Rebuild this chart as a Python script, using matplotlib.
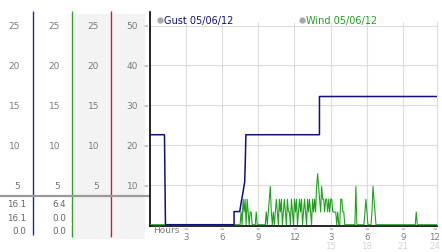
import numpy as np
import matplotlib
matplotlib.use("Agg")
import matplotlib.pyplot as plt

# Gust trace (hour of day, value on main axis)
gust_hours = [0.0, 1.24, 1.32, 7.0, 7.0, 7.47, 7.6, 7.75, 7.88, 7.94, 7.98, 14.07, 14.07, 23.8]
gust_vals = [22.6, 22.6, 0.0, 0.0, 3.3, 3.3, 5.8, 8.3, 10.8, 17.0, 22.6, 22.6, 32.2, 32.2]

# Wind readings, every 5 minutes, one row per hour
wind_rows = [
    [0, 0, 0, 0, 0, 0, 0, 0, 0, 0, 0, 0],  # 00
    [0, 0, 0, 0, 0, 0, 0, 0, 0, 0, 0, 0],  # 01
    [0, 0, 0, 0, 0, 0, 0, 0, 0, 0, 0, 0],  # 02
    [0, 0, 0, 0, 0, 0, 0, 0, 0, 0, 0, 0],  # 03
    [0, 0, 0, 0, 0, 0, 0, 0, 0, 0, 0, 0],  # 04
    [0, 0, 0, 0, 0, 0, 0, 0, 0, 0, 0, 0],  # 05
    [0, 0, 0, 0, 0, 0, 0, 0, 0, 0, 0, 0],  # 06
    [0, 0, 0, 0, 0, 0, 0, 3.2, 0, 6.4, 3.2, 6.4],  # 07
    [0, 6.4, 3.2, 0, 3.2, 3.2, 0, 0, 0, 0, 3.2, 0],  # 08
    [0, 0, 0, 0, 0, 0, 0, 0, 3.2, 0, 3.2, 6.4],  # 09
    [9.6, 3.2, 0, 3.2, 0, 3.2, 6.4, 3.2, 0, 6.4, 3.2, 6.4],  # 10
    [0, 3.2, 6.4, 3.2, 0, 6.4, 3.2, 3.2, 0, 6.4, 3.2, 0],  # 11
    [6.4, 3.2, 6.4, 0, 3.2, 6.4, 3.2, 6.4, 0, 3.2, 6.4, 3.2],  # 12
    [0, 6.4, 3.2, 6.4, 3.2, 0, 6.4, 3.2, 6.4, 3.2, 9.6, 12.8],  # 13
    [9.6, 6.4, 3.2, 9.6, 6.4, 6.4, 3.2, 6.4, 6.4, 3.2, 6.4, 3.2],  # 14
    [6.4, 6.4, 3.2, 3.2, 3.2, 3.2, 0, 3.2, 0, 0, 6.4, 6.4],  # 15
    [3.2, 3.2, 0, 0, 0, 0, 0, 0, 0, 0, 0, 0],  # 16
    [0, 9.6, 0, 0, 0, 0, 0, 0, 0, 0, 3.2, 6.4],  # 17
    [3.2, 0, 0, 0, 0, 3.2, 9.6, 6.4, 3.2, 0, 0, 0],  # 18
    [0, 0, 0, 0, 0, 0, 0, 0, 0, 0, 0, 0],  # 19
    [0, 0, 0, 0, 0, 0, 0, 0, 0, 0, 0, 0],  # 20
    [0, 0, 0, 0, 0, 0, 0, 0, 0, 0, 0, 0],  # 21
    [0, 3.2, 0, 0, 0, 0, 0, 0, 0, 0, 0, 0],  # 22
    [0, 0, 0, 0, 0, 0, 0, 0, 0, 0, 0, 0],  # 23
]

# left panel scales and current/max/min readouts
main_levels = [50, 40, 30, 20, 10]
half_levels = [25, 20, 15, 10, 5]
gust_readout = ["16.1", "16.1", "0.0"]
wind_readout = ["6.4", "0.0", "0.0"]

hour_ticks = [3, 6, 9, 12, 15, 18, 21, 24]
hour_labels = ["3", "6", "9", "12", "3", "6", "9", "12"]
late_ticks = [15, 18, 21, 24]
late_labels = ["15", "18", "21", "24"]

legend_gust = "Gust 05/06/12"
legend_wind = "Wind 05/06/12"

NAVY = "#10107a"
GREEN = "#22a022"
GRAY = "#7a7a7a"
GRID = "#dcdcdc"

W, H = 442, 253
Y0 = 226.7   # pixel row of value 0
PPU = 4.0    # pixels per main-axis unit


def yval(py):
    return (Y0 - py) / PPU


fig = plt.figure(figsize=(W / 100, H / 100), dpi=100)

# ---- left panel (pixel x, main-axis y)
axl = fig.add_axes([0, 0, 149.5 / W, 1])
axl.set_xlim(0, 149.5)
axl.set_ylim(yval(H), yval(0))
axl.axis("off")

axl.fill_between([73, 111], yval(240), yval(15), color="#f3f3f3", lw=0)
axl.fill_between([113, 145], yval(240), yval(15), color="#f3f3f3", lw=0)
axl.vlines(33.3, yval(236), yval(11.7), color="#1c2c9c", lw=1.0)
axl.vlines(72.3, yval(238), yval(11.7), color="#30a030", lw=1.0)
axl.vlines(111, yval(238), yval(11.7), color="#b02828", lw=1.0)
axl.hlines(7.5, 0, 149.5, color="#9a9a9a", lw=1.6)

for lv, hv in zip(main_levels, half_levels):
    for xr in [20, 60, 99]:
        axl.text(xr, lv, str(hv), ha="right", va="center", fontsize=6.5, color=GRAY)
    axl.text(138, lv, str(lv), ha="right", va="center", fontsize=6.5, color=GRAY)
    axl.text(145.5, lv, "≈", ha="center", va="center", fontsize=4, color="#999999")

for i, (g, w) in enumerate(zip(gust_readout, wind_readout)):
    yy = yval(205 + i * 13.3)
    axl.text(26.5, yy, g, ha="right", va="center", fontsize=6.3, color="#666666")
    axl.text(65.8, yy, w, ha="right", va="center", fontsize=6.3, color="#666666")

# ---- main chart
ax = fig.add_axes([149.5 / W, 1 - Y0 / H, (437 - 149.5) / W, (Y0 - 13) / H])
ax.set_xlim(0, 23.8)
ax.set_ylim(-0.25, yval(13))

for lv in main_levels:
    ax.axhline(lv, color=GRID, lw=0.8, zorder=0)
ax.vlines(hour_ticks[:-1], 0, 50.9, color=GRID, lw=0.8, zorder=0)

wind = np.array(wind_rows, dtype=float).ravel()
wind_hours = np.arange(len(wind)) * (5 / 60)
ax.plot(wind_hours, wind, color=GREEN, lw=0.8, zorder=3, clip_on=True)
ax.plot(gust_hours, gust_vals, color=NAVY, lw=1.1, zorder=4)

ax.spines["top"].set_visible(False)
ax.spines["right"].set_color(GRID)
ax.spines["right"].set_linewidth(0.8)
ax.spines["right"].set_bounds(0, 50.9)
ax.spines["left"].set_color("black")
ax.spines["left"].set_linewidth(1.2)
ax.spines["bottom"].set_color("black")
ax.spines["bottom"].set_linewidth(1.2)
ax.set_xticks([])
ax.set_yticks([])

# legend entries
ax.plot([0.9], [51.5], "o", ms=3.5, color="#a8a8a8", clip_on=False)
ax.text(1.2, 51.5, legend_gust, ha="left", va="center", fontsize=7, color=NAVY)
ax.plot([12.65], [51.5], "o", ms=3.5, color="#a8a8a8", clip_on=False)
ax.text(12.95, 51.5, legend_wind, ha="left", va="center", fontsize=7, color=GREEN)

# hour axis labels
ax.text(0.28, yval(231.3), "Hours", ha="left", va="center", fontsize=6.5, color=GRAY, clip_on=False)
for h, lab in zip(hour_ticks, hour_labels):
    hx = min(h, 23.6)
    ax.text(hx, yval(230.5), "≈", ha="center", va="center", fontsize=4, color="#999999", clip_on=False)
    ax.text(hx, yval(238.5), lab, ha="center", va="center", fontsize=6.2, color=GRAY, clip_on=False)
for h, lab in zip(late_ticks, late_labels):
    hx = min(h, 23.6)
    ax.text(hx, yval(247.5), lab, ha="center", va="center", fontsize=6.2, color="#d4d4d4", clip_on=False)

fig.savefig("out.png", dpi=100)
